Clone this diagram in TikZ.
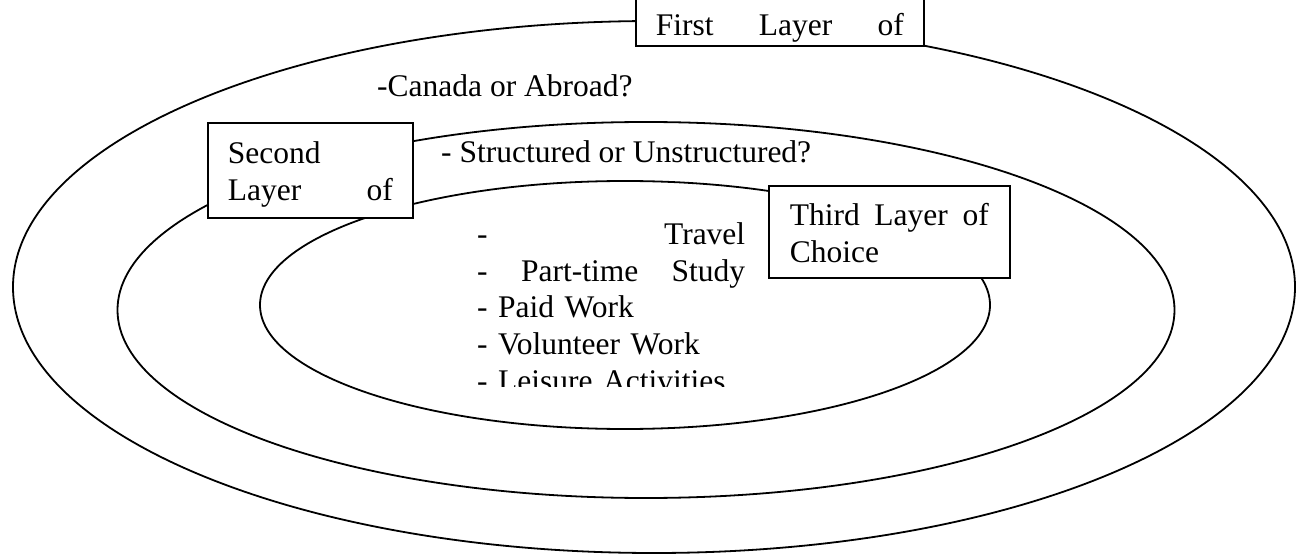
\documentclass[tikz,border=0pt]{standalone}
\usepackage{fontspec}
\setmainfont{Liberation Serif}
\usetikzlibrary{shapes.geometric}
\tikzset{
  ring/.style={draw, ellipse, line width=1.8pt, inner sep=0pt},
  layerbox/.style={draw, fill=white, line width=1.6pt, anchor=north west, inner xsep=20pt, inner ysep=0pt, align=left},
  choice/.style={anchor=base west, inner sep=0pt},
}
\newcommand{\layerfont}{\fontsize{31.5}{36.5}\selectfont}

\begin{document}
\begin{tikzpicture}[x=1pt, y=-1pt, font=\layerfont]
\useasboundingbox (0,0) rectangle (1296,556);
% the three layers
\node (outer) [ring, minimum width=1282pt, minimum height=532pt] at (654,287) {};
\node (middle) [ring, minimum width=1057pt, minimum height=376pt] at (646,310) {};
\node (inner) [ring, minimum width=730pt, minimum height=248pt] at (625,305) {};
% questions of each layer
\node (abroad) [choice] at (377,97) {-Canada or Abroad?};
\node (structured) [choice] at (441,163) {- Structured or Unstructured?};
\begin{scope}
\clip (470,200) rectangle (760,386);
\node (activities) [choice, text width=268pt, align=left] at (477,245)
  {-\hfill Travel\\ -\hfill Part-time\hfill Study\\ - Paid Work\\ - Volunteer Work\\ - Leisure Activities};
\end{scope}
% layer labels
\node (firstlayer) [layerbox, text width=248pt, text height=45pt, text depth=10pt] at (635,-10) {First\hfill Layer\hfill of};
\node (secondlayer) [layerbox, text width=165pt, text height=41pt, text depth=54pt] at (207,122) {Second\\ Layer\hfill of};
\node (thirdlayer) [layerbox, inner xsep=21pt, text width=199pt, text height=40pt, text depth=52pt] at (768,185) {Third\hfill Layer\hfill of\\ Choice};
\end{tikzpicture}
\end{document}
